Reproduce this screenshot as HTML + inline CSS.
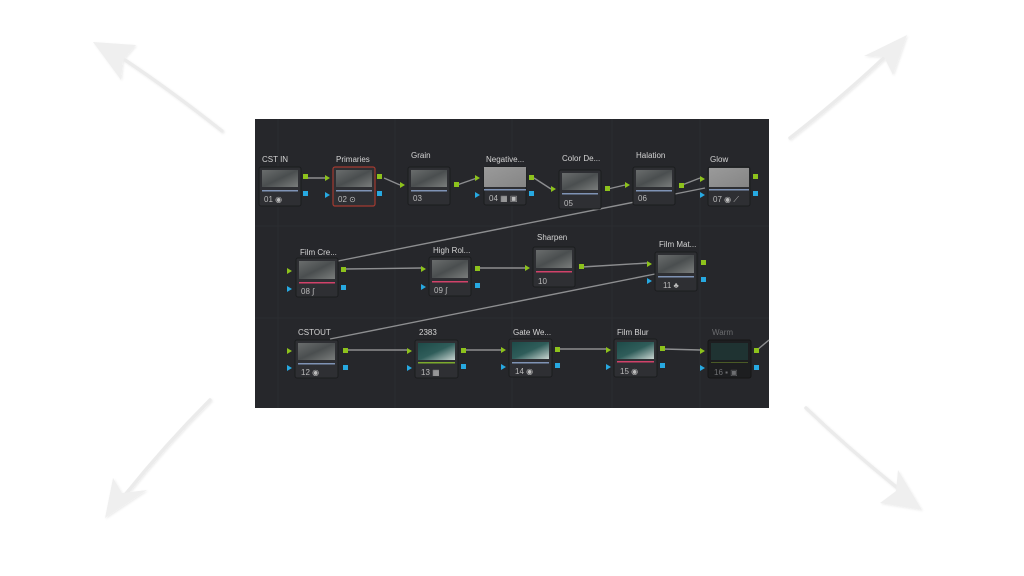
<!DOCTYPE html>
<html><head><meta charset="utf-8"><style>
html,body{margin:0;padding:0;background:#fff;width:1024px;height:576px;overflow:hidden}
svg{display:block}
text{font-family:"Liberation Sans",sans-serif}
</style></head><body>
<svg width="1024" height="576" viewBox="0 0 1024 576" xmlns="http://www.w3.org/2000/svg">
<defs>
<linearGradient id="th" x1="0" y1="0" x2="1" y2="1"><stop offset="0" stop-color="#6a6d6d"/><stop offset="0.5" stop-color="#4a4e4f"/><stop offset="1" stop-color="#7a7d7c"/></linearGradient>
<linearGradient id="tl" x1="0" y1="0" x2="1" y2="1"><stop offset="0" stop-color="#9a9a9a"/><stop offset="1" stop-color="#858585"/></linearGradient>
<linearGradient id="tt" x1="0" y1="0" x2="1" y2="1"><stop offset="0" stop-color="#1d4a48"/><stop offset="0.5" stop-color="#2f5d5a"/><stop offset="1" stop-color="#c8d4d0"/></linearGradient>
<filter id="sh" x="-20%" y="-20%" width="140%" height="140%"><feDropShadow dx="1" dy="1" stdDeviation="1" flood-color="#000" flood-opacity="0.08"/></filter>
</defs>

<!-- arrows -->
<g fill="#efefef" stroke="#ebebeb" filter="url(#sh)">
<path d="M222,131 Q170,90 125,60" fill="none" stroke-width="3.5" stroke-linecap="round"/>
<polygon points="93,42 136,45 123,60 121,80" stroke="none"/>
<path d="M790,138 Q845,95 890,52" fill="none" stroke-width="3.5" stroke-linecap="round"/>
<polygon points="907,35 893,75 884,57 864,56" stroke="none"/>
<path d="M210,400 Q165,445 125,495" fill="none" stroke-width="3.5" stroke-linecap="round"/>
<polygon points="105,518 113,478 122,493 147,490" stroke="none"/>
<path d="M806,408 Q850,450 900,490" fill="none" stroke-width="3.5" stroke-linecap="round"/>
<polygon points="922,510 880,503 896,491 898,470" stroke="none"/>
</g>

<!-- panel -->
<rect x="255" y="119" width="514" height="289" fill="#26272b"/>
<g stroke="#2b2c30" stroke-width="1">
<line x1="278" y1="119" x2="278" y2="408"/><line x1="395" y1="119" x2="395" y2="408"/><line x1="512" y1="119" x2="512" y2="408"/><line x1="612" y1="119" x2="612" y2="408"/><line x1="700" y1="119" x2="700" y2="408"/>
<line x1="255" y1="226" x2="769" y2="226"/><line x1="255" y1="318" x2="769" y2="318"/>
</g>

<!-- connectors -->
<g stroke="#8d8e90" stroke-width="1.4" fill="none">
<line x1="308" y1="178" x2="326" y2="178"/>
<line x1="384" y1="178" x2="400" y2="185"/>
<line x1="457" y1="185" x2="477" y2="178"/>
<line x1="534" y1="178" x2="551" y2="189"/>
<line x1="608" y1="189" x2="625" y2="185"/>
<line x1="682" y1="185" x2="700" y2="178"/>
<line x1="338" y1="261" x2="705" y2="188"/>
<line x1="345" y1="269" x2="422" y2="268"/>
<line x1="478" y1="268" x2="526" y2="268"/>
<line x1="582" y1="267" x2="648" y2="263"/>
<line x1="330" y1="339" x2="655" y2="274"/>
<line x1="345" y1="350" x2="408" y2="350"/>
<line x1="465" y1="350" x2="502" y2="350"/>
<line x1="558" y1="349" x2="607" y2="349"/>
<line x1="663" y1="349" x2="700" y2="350"/>
<line x1="757" y1="350" x2="769" y2="340"/>
</g>

<!-- node titles -->
<g font-size="8" fill="#d4d4d4">
<text x="262" y="162">CST IN</text>
<text x="336" y="162">Primaries</text>
<text x="411" y="158">Grain</text>
<text x="486" y="162">Negative...</text>
<text x="562" y="161">Color De...</text>
<text x="636" y="158">Halation</text>
<text x="710" y="162">Glow</text>
<text x="300" y="255">Film Cre...</text>
<text x="433" y="253">High Rol...</text>
<text x="537" y="240">Sharpen</text>
<text x="659" y="247">Film Mat...</text>
<text x="298" y="335">CSTOUT</text>
<text x="419" y="335">2383</text>
<text x="513" y="335">Gate We...</text>
<text x="617" y="335">Film Blur</text>
<text x="712" y="335" fill="#6c6d70">Warm</text>
</g>

<g id="nodes">
<g transform="translate(259,167)"><rect width="42" height="39" rx="2" fill="#2e2f33" stroke="#1b1c1e"/><rect x="3" y="3" width="36" height="17" fill="url(#th)"/><rect x="3" y="23" width="36" height="1.5" fill="#7f93b5"/><text x="5" y="35" font-size="8" fill="#bbb">01 ◉</text><rect x="44" y="7" width="5" height="5" fill="#8dc21c"/><rect x="44" y="24" width="5" height="5" fill="#27a9e1"/></g>
<g transform="translate(333,167)"><rect width="42" height="39" rx="2" fill="#2e2f33" stroke="#a33a30" stroke-width="1.2"/><rect x="3" y="3" width="36" height="17" fill="url(#th)"/><rect x="3" y="23" width="36" height="1.5" fill="#7f93b5"/><text x="5" y="35" font-size="8" fill="#bbb">02 ⊙</text><rect x="44" y="7" width="5" height="5" fill="#8dc21c"/><rect x="44" y="24" width="5" height="5" fill="#27a9e1"/><polygon points="-8,8 -3,11 -8,14" fill="#8dc21c"/><polygon points="-8,25 -3,28 -8,31" fill="#27a9e1"/></g>
<g transform="translate(408,167)"><rect width="42" height="38" rx="2" fill="#2e2f33" stroke="#1b1c1e"/><rect x="3" y="3" width="36" height="17" fill="url(#th)"/><rect x="3" y="23" width="36" height="1.5" fill="#7f93b5"/><text x="5" y="34" font-size="8" fill="#bbb">03</text><rect x="46" y="15" width="5" height="5" fill="#8dc21c"/><polygon points="-8,15 -3,18 -8,21" fill="#8dc21c"/></g>
<g transform="translate(484,167)"><rect width="42" height="38" rx="2" fill="#2e2f33" stroke="#1b1c1e"/><rect x="0" y="0" width="42" height="20" fill="url(#tl)"/><rect x="0" y="22" width="42" height="1.5" fill="#7f93b5"/><text x="5" y="34" font-size="8" fill="#bbb">04 ▦ ▣</text><rect x="45" y="8" width="5" height="5" fill="#8dc21c"/><rect x="45" y="24" width="5" height="5" fill="#27a9e1"/><polygon points="-9,8 -4,11 -9,14" fill="#8dc21c"/><polygon points="-9,25 -4,28 -9,31" fill="#27a9e1"/></g>
<g transform="translate(559,170)"><rect width="42" height="39" rx="2" fill="#2e2f33" stroke="#1b1c1e"/><rect x="3" y="3" width="36" height="17" fill="url(#th)"/><rect x="3" y="23" width="36" height="1.5" fill="#7f93b5"/><text x="5" y="36" font-size="8" fill="#bbb">05</text><rect x="46" y="16" width="5" height="5" fill="#8dc21c"/><polygon points="-8,16 -3,19 -8,22" fill="#8dc21c"/></g>
<g transform="translate(633,167)"><rect width="42" height="38" rx="2" fill="#2e2f33" stroke="#1b1c1e"/><rect x="3" y="3" width="36" height="17" fill="url(#th)"/><rect x="3" y="23" width="36" height="1.5" fill="#7f93b5"/><text x="5" y="34" font-size="8" fill="#bbb">06</text><rect x="46" y="16" width="5" height="5" fill="#8dc21c"/><polygon points="-8,15 -3,18 -8,21" fill="#8dc21c"/></g>
<g transform="translate(708,167)"><rect width="42" height="39" rx="2" fill="#2e2f33" stroke="#1b1c1e"/><rect x="1" y="1" width="40" height="19" fill="url(#tl)"/><rect x="1" y="22" width="40" height="1.5" fill="#7f93b5"/><text x="5" y="35" font-size="8" fill="#bbb">07 ◉ ⟋</text><rect x="45" y="7" width="5" height="5" fill="#8dc21c"/><rect x="45" y="24" width="5" height="5" fill="#27a9e1"/><polygon points="-8,9 -3,12 -8,15" fill="#8dc21c"/><polygon points="-8,25 -3,28 -8,31" fill="#27a9e1"/></g>
<g transform="translate(296,258)"><rect width="42" height="39" rx="2" fill="#2e2f33" stroke="#1b1c1e"/><rect x="3" y="3" width="36" height="18" fill="url(#th)"/><rect x="3" y="24" width="36" height="1.5" fill="#d1426a"/><text x="5" y="36" font-size="8" fill="#bbb">08 ∫</text><rect x="45" y="9" width="5" height="5" fill="#8dc21c"/><rect x="45" y="27" width="5" height="5" fill="#27a9e1"/><polygon points="-9,10 -4,13 -9,16" fill="#8dc21c"/><polygon points="-9,28 -4,31 -9,34" fill="#27a9e1"/></g>
<g transform="translate(429,257)"><rect width="42" height="39" rx="2" fill="#2e2f33" stroke="#1b1c1e"/><rect x="3" y="3" width="36" height="18" fill="url(#th)"/><rect x="3" y="24" width="36" height="1.5" fill="#d1426a"/><text x="5" y="36" font-size="8" fill="#bbb">09 ∫</text><rect x="46" y="9" width="5" height="5" fill="#8dc21c"/><rect x="46" y="26" width="5" height="5" fill="#27a9e1"/><polygon points="-8,9 -3,12 -8,15" fill="#8dc21c"/><polygon points="-8,27 -3,30 -8,33" fill="#27a9e1"/></g>
<g transform="translate(533,247)"><rect width="42" height="40" rx="2" fill="#2e2f33" stroke="#1b1c1e"/><rect x="3" y="3" width="36" height="18" fill="url(#th)"/><rect x="3" y="24" width="36" height="1.5" fill="#d1426a"/><text x="5" y="37" font-size="8" fill="#bbb">10</text><rect x="46" y="17" width="5" height="5" fill="#8dc21c"/><polygon points="-8,18 -3,21 -8,24" fill="#8dc21c"/></g>
<g transform="translate(655,252)"><rect width="42" height="39" rx="2" fill="#2e2f33" stroke="#1b1c1e"/><rect x="3" y="3" width="36" height="18" fill="url(#th)"/><rect x="3" y="24" width="36" height="1.5" fill="#7f93b5"/><text x="8" y="36" font-size="8" fill="#bbb">11 ♣</text><rect x="46" y="8" width="5" height="5" fill="#8dc21c"/><rect x="46" y="25" width="5" height="5" fill="#27a9e1"/><polygon points="-8,9 -3,12 -8,15" fill="#8dc21c"/><polygon points="-8,26 -3,29 -8,32" fill="#27a9e1"/></g>
<g transform="translate(295,340)"><rect width="43" height="38" rx="2" fill="#2e2f33" stroke="#1b1c1e"/><rect x="3" y="3" width="37" height="17" fill="url(#th)"/><rect x="3" y="23" width="37" height="1.5" fill="#7f93b5"/><text x="6" y="35" font-size="8" fill="#bbb">12 ◉</text><rect x="48" y="8" width="5" height="5" fill="#8dc21c"/><rect x="48" y="25" width="5" height="5" fill="#27a9e1"/><polygon points="-8,8 -3,11 -8,14" fill="#8dc21c"/><polygon points="-8,25 -3,28 -8,31" fill="#27a9e1"/></g>
<g transform="translate(415,340)"><rect width="43" height="38" rx="2" fill="#2e2f33" stroke="#1b1c1e"/><rect x="3" y="3" width="37" height="17" fill="url(#tt)"/><rect x="3" y="22" width="37" height="1.5" fill="#7caa2c"/><text x="6" y="35" font-size="8" fill="#bbb">13 ▦</text><rect x="46" y="8" width="5" height="5" fill="#8dc21c"/><rect x="46" y="24" width="5" height="5" fill="#27a9e1"/><polygon points="-8,8 -3,11 -8,14" fill="#8dc21c"/><polygon points="-8,25 -3,28 -8,31" fill="#27a9e1"/></g>
<g transform="translate(509,339)"><rect width="43" height="38" rx="2" fill="#2e2f33" stroke="#1b1c1e"/><rect x="3" y="3" width="37" height="17" fill="url(#tt)"/><rect x="3" y="23" width="37" height="1.5" fill="#7f93b5"/><text x="6" y="35" font-size="8" fill="#bbb">14 ◉</text><rect x="46" y="8" width="5" height="5" fill="#8dc21c"/><rect x="46" y="24" width="5" height="5" fill="#27a9e1"/><polygon points="-8,8 -3,11 -8,14" fill="#8dc21c"/><polygon points="-8,25 -3,28 -8,31" fill="#27a9e1"/></g>
<g transform="translate(614,339)"><rect width="43" height="38" rx="2" fill="#2e2f33" stroke="#1b1c1e"/><rect x="3" y="3" width="37" height="17" fill="url(#tt)"/><rect x="3" y="22" width="37" height="1.5" fill="#d1426a"/><text x="6" y="35" font-size="8" fill="#bbb">15 ◉</text><rect x="46" y="7" width="5" height="5" fill="#8dc21c"/><rect x="46" y="24" width="5" height="5" fill="#27a9e1"/><polygon points="-8,8 -3,11 -8,14" fill="#8dc21c"/><polygon points="-8,25 -3,28 -8,31" fill="#27a9e1"/></g>
<g transform="translate(708,340)"><rect width="43" height="38" rx="2" fill="#1d1e20" stroke="#151516"/><rect x="3" y="3" width="37" height="17" fill="#1f3332"/><rect x="3" y="22" width="37" height="1" fill="#4a5a26"/><text x="6" y="35" font-size="8" fill="#6e6f72">16 ▪ ▣</text><rect x="46" y="8" width="5" height="5" fill="#8dc21c"/><rect x="46" y="25" width="5" height="5" fill="#27a9e1"/><polygon points="-8,8 -3,11 -8,14" fill="#8dc21c"/><polygon points="-8,25 -3,28 -8,31" fill="#27a9e1"/></g>
</g>
</svg>
</body></html>
